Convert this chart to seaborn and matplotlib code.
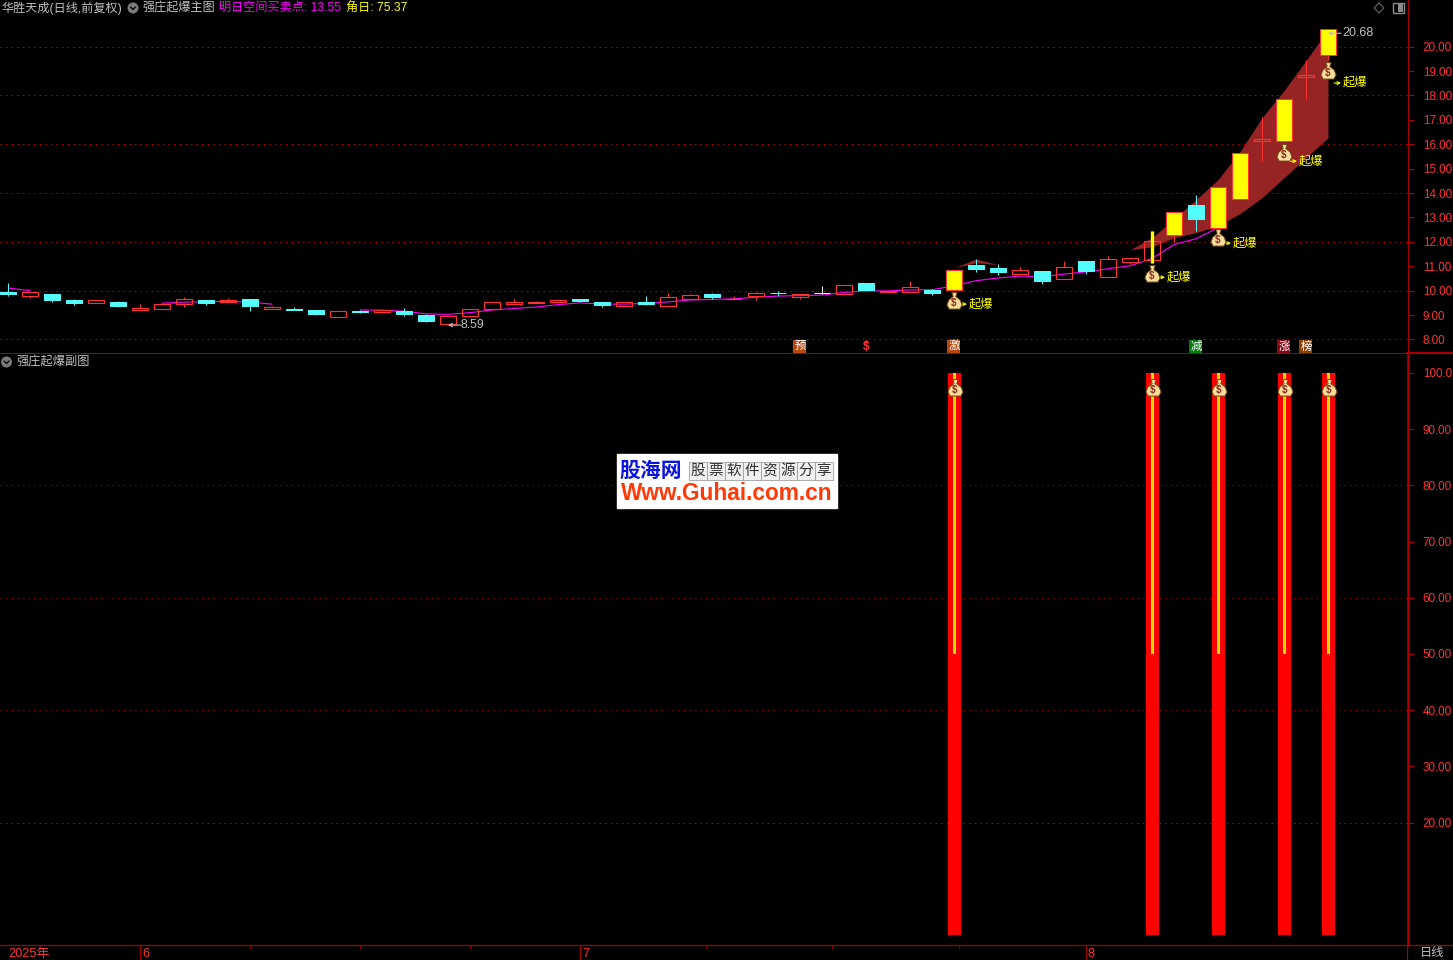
import numpy as np
import pandas as pd
import matplotlib
matplotlib.use("Agg")
import matplotlib.pyplot as plt
from matplotlib.path import Path
from matplotlib.patches import Rectangle, Circle
import seaborn as sns

# candles
opens = [9.96, 9.77, 9.88, 9.63, 9.48, 9.55, 9.19, 9.27, 9.44, 9.63, 9.52, 9.67, 9.23, 9.26, 9.22, 8.91,
         9.18, 9.11, 9.18, 9.02, 8.62, 8.95, 9.27, 9.44, 9.51, 9.52, 9.67, 9.55, 9.36, 9.52, 9.36, 9.68,
         9.88, 9.66, 9.77, 9.92, 9.73, 9.92, 9.86, 10.33, 9.93, 9.95, 10.04, 10.01, 11.07, 10.94, 10.67, 10.82,
         10.50, 11.23, 10.55, 11.16, 11.24, 12.27, 13.52, 12.59, 13.77, 16.12, 16.15, 18.76, 19.64]
closes = [9.88, 9.95, 9.63, 9.51, 9.62, 9.39, 9.30, 9.47, 9.66, 9.51, 9.62, 9.36, 9.33, 9.22, 9.06, 9.17,
          9.14, 9.21, 9.03, 8.77, 8.96, 9.25, 9.54, 9.54, 9.55, 9.62, 9.59, 9.40, 9.54, 9.47, 9.74, 9.82,
          9.75, 9.68, 9.91, 9.89, 9.86, 9.89, 10.23, 10.04, 9.99, 10.15, 9.89, 10.86, 10.90, 10.78, 10.86, 10.41,
          10.98, 10.82, 11.31, 11.35, 12.05, 13.23, 12.95, 14.26, 15.66, 16.22, 17.87, 18.85, 20.74]
highs = [10.33, 9.95, 9.88, 9.67, 9.62, 9.59, 9.47, 9.47, 9.75, 9.63, 9.71, 9.67, 9.39, 9.34, 9.22, 9.17,
         9.22, 9.21, 9.30, 9.06, 8.96, 9.25, 9.54, 9.67, 9.58, 9.66, 9.67, 9.55, 9.54, 9.80, 9.92, 9.88,
         9.92, 9.78, 9.95, 9.99, 9.86, 10.20, 10.23, 10.33, 9.99, 10.41, 10.08, 10.86, 11.31, 11.11, 10.98, 10.82,
         11.23, 11.23, 11.41, 11.35, 12.46, 13.23, 13.93, 14.26, 15.66, 17.10, 17.87, 19.47, 20.74]
lows = [9.80, 9.71, 9.55, 9.43, 9.48, 9.34, 9.19, 9.27, 9.34, 9.43, 9.52, 9.18, 9.23, 9.22, 9.02, 8.91,
        9.10, 9.10, 8.98, 8.73, 8.59, 8.95, 9.22, 9.44, 9.48, 9.52, 9.52, 9.34, 9.36, 9.43, 9.36, 9.68,
        9.67, 9.66, 9.60, 9.77, 9.67, 9.85, 9.81, 10.00, 9.89, 9.95, 9.81, 10.01, 10.78, 10.66, 10.67, 10.29,
        10.50, 10.70, 10.55, 11.11, 11.15, 11.98, 12.46, 12.59, 13.77, 15.33, 16.15, 17.87, 19.47]
yellow_days = [43, 53, 55, 56, 58, 60]
white_days = [37]
nan = float("nan")
ma_line = [10.11, 10.00, nan, nan, nan, nan, nan, 9.49, 9.53, 9.55, 9.56, 9.53, 9.45, nan, nan, nan,
           9.21, 9.20, 9.16, 9.05, 9.03, 9.10, 9.21, 9.27, 9.33, 9.43, 9.50, 9.45, 9.45, 9.48, 9.54, 9.62,
           9.64, 9.67, 9.73, 9.78, 9.80, 9.82, 9.93, 9.99, 9.99, 10.03, 10.04, 10.20, 10.41, 10.52, 10.60, 10.57,
           10.68, 10.77, 10.90, 11.02, 11.32, 11.89, 12.13, 12.58, nan, nan, nan, nan, nan]
# brown channel
band_days = [51, 52, 53, 54, 55, 56, 57, 58, 59, 60]
band_up = [11.68, 12.17, 12.95, 13.73, 14.55, 15.70, 17.09, 18.20, 19.43, 20.70]
band_lo = [11.68, 11.80, 12.17, 12.38, 12.66, 13.16, 13.81, 14.63, 15.45, 16.27]
hump_days = [43, 44, 45]
hump_up = [10.94, 11.30, 11.07]
hump_lo = [10.94, 11.15, 11.07]
# signals
signal_days = [43, 52, 55, 58, 60]
signal_values = [100, 100, 100, 100, 100]
bag_prices = [9.59, 10.70, 12.17, 15.66, 19.02]
label_prices = [9.45, 10.55, 11.95, 15.31, 18.51]
tag_days = [36, 43, 54, 58, 59]
tag_text = ["预", "激", "减", "涨", "榜"]
tag_colors = ["#b8480f", "#b8480f", "#0a7a12", "#8a0612", "#8a4208"]
price_ticks = [8, 9, 10, 11, 12, 13, 14, 15, 16, 17, 18, 19, 20]
price_grid = [8, 10, 12, 14, 16, 18, 20]
osc_ticks = [20, 30, 40, 50, 60, 70, 80, 90, 100]
osc_labels = ["20.00", "30.00", "40.00", "50.00", "60.00", "70.00", "80.00", "90.00", "100.0"]
osc_grid = [20, 40, 60, 80]
month_days = [0, 6, 26, 49]
month_text = ["2025年", "6", "7", "8"]
minor_days = [11, 16, 21, 31.75, 37.45, 43.25]

W, H = 1453, 960
RED = "#ff3232"
AXIS = "#a80000"
GRAY = "#c0c0c0"
CYAN = "#54fcfc"
BROWN = "#962424"

sns.set_theme(style="dark", rc={"figure.facecolor": "black", "axes.facecolor": "black",
                                "savefig.facecolor": "black", "axes.grid": False})
plt.rcParams["font.family"] = ["Liberation Sans", "Noto Sans CJK SC", "DejaVu Sans"]


def px_axes(x0, y0, x1, y1):
    return fig.add_axes([x0 / W, 1 - y1 / H, (x1 - x0) / W, (y1 - y0) / H])


fig = plt.figure(figsize=(W / 100, H / 100), dpi=100)
ax = px_axes(0, 0, 1407.5, 353)
ax2 = px_axes(0, 353, 1407.5, 945)
ax3 = px_axes(0, 945, 1407.5, 960)

xlim = (-8 / 22, (1407.5 - 8) / 22)
pb = 10 - (353 - 290.7) / 24.4
pt = 10 + 290.7 / 24.4
ax.set_ylim(pb, pt)
vb = 100 - (945 - 372.9) / 5.62
vt = 100 + (372.9 - 353) / 5.62
ax2.set_ylim(vb, vt)
xlim2 = (xlim[0] - 0.8 / 22, xlim[1] - 0.8 / 22)
ax.set_xlim(*xlim)
ax2.set_xlim(*xlim2)
ax3.set_xlim(*xlim)
for a in (ax, ax2, ax3):
    a.set_facecolor("black")
    for s in a.spines.values():
        s.set_visible(False)

dots = (0, (1.4, 4.2))
for v in price_grid:
    ax.axhline(v, color="#c80000", lw=0.72, ls=dots, zorder=1)
for v in osc_grid:
    ax2.axhline(v, color="#c80000" if v == 20 else "#8a0000", lw=0.72, ls=dots, zorder=1)

# price panel
days = np.arange(len(opens))
df = pd.DataFrame({"day": days, "open": opens, "close": closes, "high": highs, "low": lows, "ma": ma_line})
ax.fill_between(band_days, band_lo, band_up, color=BROWN, lw=0, zorder=2)
ax.fill_between(hump_days, hump_lo, hump_up, color=BROWN, lw=0, zorder=2)

df["seg"] = df["ma"].isna().cumsum()
sns.lineplot(data=df.dropna(subset=["ma"]), x="day", y="ma", units="seg", estimator=None,
             color="#ff00ff", lw=0.8, ax=ax, legend=False, zorder=3)
ax.set_xlim(*xlim)
ax.set_ylim(pb, pt)

body_w = 16 / 22
for row in df.itertuples():
    d = row.day
    top, bot = max(row.open, row.close), min(row.open, row.close)
    if d in white_days:
        c = "white"
    elif row.close >= row.open:
        c = RED
    else:
        c = CYAN
    ax.vlines(d, row.low, bot, color=c, lw=0.72, zorder=4)
    ax.vlines(d, top, row.high, color=c, lw=0.72, zorder=4)
    if d in yellow_days:
        ax.bar(d, top - bot, body_w, bottom=bot, facecolor="#ffff00", edgecolor=RED, lw=0.72, zorder=5)
    elif c == RED:
        # hollow: magenta line stays visible inside
        ax.bar(d, top - bot, body_w, bottom=bot, facecolor="none", edgecolor=RED, lw=0.8, zorder=5)
    else:
        ax.bar(d, top - bot, body_w, bottom=bot, facecolor=c, edgecolor=c, lw=0.72, zorder=5)
# day 52 has a thick yellow wick
ax.vlines(52, lows[52], highs[52], color="#ffff00", lw=2.4, zorder=6)

# high/low marks
ax.annotate("", xy=(20, 8.59), xytext=(13, 0), textcoords="offset pixels", zorder=8,
            arrowprops=dict(arrowstyle="->", color=GRAY, lw=0.8, mutation_scale=6, shrinkA=0, shrinkB=0))
ax.annotate("8.59", xy=(20, 8.59), xytext=(13, 0), textcoords="offset pixels", color=GRAY,
            fontsize=8.8, va="center", ha="left", zorder=8)
ax.annotate("", xy=(60, 20.55), xytext=(13, 0), textcoords="offset pixels", zorder=8,
            arrowprops=dict(arrowstyle="->", color=GRAY, lw=0.8, mutation_scale=6, shrinkA=0, shrinkB=0))
ax.annotate("20.68", xy=(60, 20.55), xytext=(14, 0), textcoords="offset pixels", color=GRAY,
            fontsize=9, va="center", ha="left", zorder=8)

# money bag marker
bag = Path([(-0.3, 1), (0.3, 1), (0.15, 0.55), (0.65, 0.15), (0.85, -0.4), (0.6, -0.85),
            (-0.6, -0.85), (-0.85, -0.4), (-0.65, 0.15), (-0.15, 0.55), (-0.3, 1)], closed=True)


def draw_bag(a, x, y):
    a.scatter([x], [y], marker=bag, s=165, facecolor="#f6dd9c", edgecolor="#6a4510", lw=0.7, zorder=9)
    a.annotate("$", xy=(x, y), xytext=(0, -2), textcoords="offset pixels", ha="center", va="center",
               fontsize=7, fontweight="bold", color="#8a2a20", zorder=10)


for d, bp, lp in zip(signal_days, bag_prices, label_prices):
    draw_bag(ax, d, bp)
    ax.annotate("起爆", xy=(d, lp), xytext=(15, 0), textcoords="offset pixels", color="#ffff00",
                fontsize=8.8, va="center", ha="left", zorder=9)
    ax.annotate("", xy=(d + 6 / 22, lp), xytext=(7, 0), textcoords="offset pixels", zorder=8,
                arrowprops=dict(arrowstyle="<-", color="#ffff00", lw=0.8, mutation_scale=5, shrinkA=0, shrinkB=0))

# tags along the bottom of the price panel
tag_y = pb + (353 - 346) / 24.4
for d, t, c in zip(tag_days, tag_text, tag_colors):
    ax.add_patch(Rectangle((d - 6.5 / 22, tag_y - 6.5 / 24.4), 13 / 22, 13 / 24.4, color=c, lw=0, zorder=7))
    ax.text(d, tag_y, t, color="white", fontsize=8.2, ha="center", va="center", zorder=8)
ax.text(39, tag_y - 1.5 / 24.4, "$", color=RED, fontsize=8.5, fontweight="bold", ha="center", va="center", zorder=8)
ax.scatter([39], [tag_y + 5 / 24.4], marker="^", s=7, color=RED, lw=0, zorder=8)

# oscillator panel
sig = pd.DataFrame({"day": days, "val": 0.0})
sig.loc[sig["day"].isin(signal_days), "val"] = signal_values
sns.barplot(data=sig, x="day", y="val", native_scale=True, width=13 / 22, color="#ff0000", saturation=1,
            errorbar=None, linewidth=0, ax=ax2, zorder=3)
ax2.bar(signal_days, [v - 50 for v in signal_values], 3.4 / 22, bottom=50, color="#ffd800", lw=0, zorder=4)
ax2.set_xlim(*xlim2)
ax2.set_ylim(vb, vt)
for d in signal_days:
    draw_bag(ax2, d, 97.4)

# watermark
wm = Rectangle((617 / W, 1 - 508 / H), 220 / W, 54 / H, transform=fig.transFigure, color="white", zorder=20)
fig.add_artist(wm)
fig.text(650.5 / W, 1 - 471 / H, "股海网", color="#0a14e0", fontsize=15, fontweight="bold", ha="center",
         va="center", zorder=21)
for n, ch in enumerate("股票软件资源分享"):
    cx = 698 + 18 * n
    fig.add_artist(Rectangle(((cx - 9) / W, 1 - 480 / H), 18 / W, 18 / H, transform=fig.transFigure,
                             facecolor="#f0f0f0", edgecolor="#a0a0a0", lw=0.6, zorder=21))
    fig.text(cx / W, 1 - 470.5 / H, ch, color="#303030", fontsize=10.5, ha="center", va="center", zorder=22)
fig.text(727 / W, 1 - 493 / H, "Www.Guhai.com.cn", color="#ff3a08", fontsize=16.3, fontweight="bold",
         ha="center", va="center", zorder=21, family=["Liberation Sans"])

# right axes
for a, ticks in ((ax, price_ticks), (ax2, osc_ticks)):
    a.yaxis.tick_right()
    a.set_yticks(ticks)
    a.set_xticks([])
    a.set_xlabel("")
    a.set_ylabel("")
    a.tick_params(axis="y", length=4, width=0.72, color=AXIS, labelcolor=RED, labelsize=8.4, pad=7)
ax.set_yticklabels([f"{v:.2f}" for v in price_ticks])
ax2.set_yticklabels(osc_labels)
fig.add_artist(plt.Line2D([1407.5 / W] * 2, [1 - 353 / H, 1], color=AXIS, lw=0.8))
fig.add_artist(plt.Line2D([1408.3 / W] * 2, [1 - 945 / H, 1 - 352.5 / H], color=AXIS, lw=1.9))
fig.add_artist(plt.Line2D([1407 / W] * 2, [0, 1 - 945 / H], color=AXIS, lw=0.8))
fig.add_artist(plt.Line2D([0, 1407 / W], [1 - 353 / H] * 2, color=AXIS, lw=0.72))
fig.add_artist(plt.Line2D([1407 / W, 1], [1 - 353 / H] * 2, color=AXIS, lw=1.6))
fig.add_artist(plt.Line2D([0, 1], [1 - 945 / H] * 2, color=AXIS, lw=0.9))

# date strip
ax3.set_ylim(0, 1)
ax3.set_yticks([])
ax3.set_xticks([])
for d in minor_days:
    ax3.vlines(d, 0.8, 1, color=AXIS, lw=0.7)
for d, t in zip(month_days, month_text):
    if d:
        ax3.vlines(d, 0, 1, color=AXIS, lw=0.7)
    ax3.annotate(t, xy=(d, 0.42), xytext=(2 if d else 0, 0), textcoords="offset pixels", color=RED,
                 fontsize=9.2, ha="left", va="center")
fig.text(1432 / W, 1 - 953 / H, "日线", color=GRAY, fontsize=8.8, ha="center", va="center")

# header
head = [(1, "华胜天成(日线,前复权)", GRAY), (142, "强庄起爆主图", GRAY),
        (219, "明日空间买卖点: 13.55", "#ff00ff"), (346, "角日: 75.37", "#ffff00")]
for x, t, c in head:
    fig.text(x / W, 1 - 8 / H, t, color=c, fontsize=8.7, ha="left", va="center")
fig.text(16 / W, 1 - 362.5 / H, "强庄起爆副图", color=GRAY, fontsize=8.8, ha="left", va="center")

# little round collapse icons, top-right buttons
aspect = fig.add_axes([0, 0, 1, 1], facecolor="none")
aspect.set_xlim(0, W)
aspect.set_ylim(H, 0)
aspect.axis("off")
for cx, cy in ((133, 8), (6.5, 362)):
    aspect.add_patch(Circle((cx, cy), 5.5, color="#7a7a7a", lw=0))
    aspect.plot([cx - 2.5, cx, cx + 2.5], [cy - 1, cy + 1.5, cy - 1], color="black", lw=0.9)
aspect.plot([1379, 1384, 1379, 1374, 1379], [3, 8, 13, 8, 3], color="#6a6a6a", lw=0.8)
aspect.add_patch(Rectangle((1392.5, 3), 11, 10, facecolor="none", edgecolor="#8a8a8a", lw=1))
aspect.add_patch(Rectangle((1398, 4), 4.5, 8, color="#8a8a8a", lw=0))

fig.savefig("out.png", dpi=100)
